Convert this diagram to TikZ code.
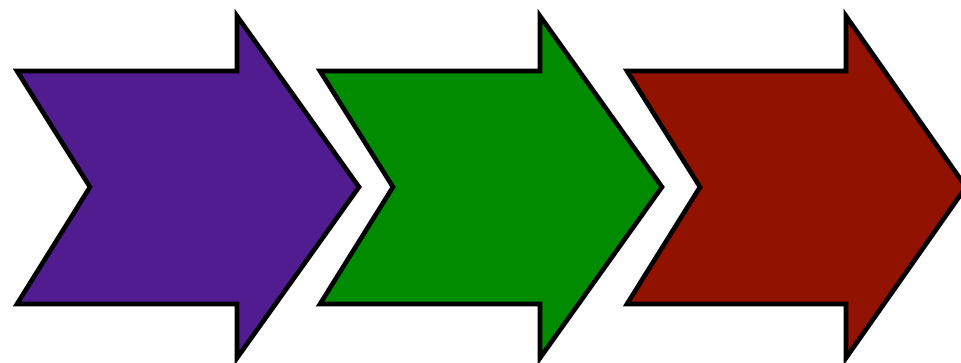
\documentclass[tikz,border=0pt]{standalone}
\definecolor{cpurple}{RGB}{80,28,143}
\definecolor{cgreen}{RGB}{0,139,0}
\definecolor{cred}{RGB}{145,18,0}
\tikzset{chev/.style={draw=black,line width=4.6pt,line join=miter,miter limit=10}}
\begin{document}
\begin{tikzpicture}[x=1pt,y=-1pt]
\useasboundingbox (0,0) rectangle (961,362);
\clip (0,0) rectangle (961,362);
\path[chev,fill=cpurple] (17,71) -- (237,71) -- (237,16) -- (359,187) -- (237,358) -- (237,304) -- (17,304) -- (90,187) -- cycle;
\path[chev,fill=cgreen] (320,71) -- (540,71) -- (540,16) -- (662,187) -- (540,358) -- (540,304) -- (320,304) -- (393,187) -- cycle;
\path[chev,fill=cred] (627,71) -- (846,71) -- (846,16) -- (966,187) -- (846,358) -- (846,304) -- (627,304) -- (700,187) -- cycle;
\end{tikzpicture}
\end{document}
